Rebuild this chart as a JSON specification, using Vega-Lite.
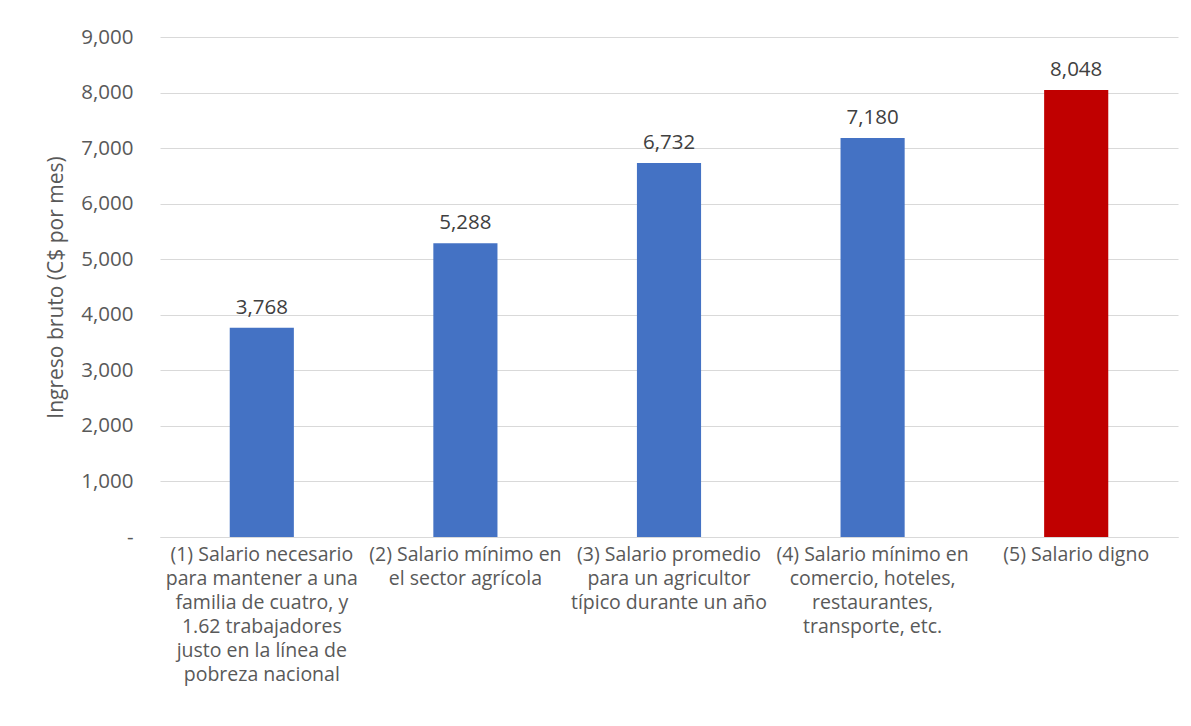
{
  "$schema": "https://vega.github.io/schema/vega-lite/v6.json",
  "width": 1018,
  "height": 500,
  "autosize": {"type": "none"},
  "padding": {"left": 160, "top": 37, "right": 13, "bottom": 189},
  "background": "white",
  "config": {"view": {"stroke": null}, "font": "Open Sans"},
  "data": {
    "values": [
      {"cat": "(1) Salario necesario|para mantener a una|familia de cuatro, y|1.62 trabajadores|justo en la línea de|pobreza nacional", "value": 3768, "group": "a"},
      {"cat": "(2) Salario mínimo en|el sector agrícola", "value": 5288, "group": "a"},
      {"cat": "(3) Salario promedio|para un agricultor|típico durante un año", "value": 6732, "group": "a"},
      {"cat": "(4) Salario mínimo en|comercio, hoteles,|restaurantes,|transporte, etc.", "value": 7180, "group": "a"},
      {"cat": "(5) Salario digno", "value": 8048, "group": "b"}
    ]
  },
  "encoding": {
    "x": {
      "field": "cat", "type": "nominal", "sort": null,
      "scale": {"paddingInner": 0.685, "paddingOuter": 0.3425},
      "axis": {
        "title": null, "labelAngle": 0, "ticks": false,
        "domainColor": "#d9d9d9", "domainWidth": 1,
        "labelExpr": "split(datum.label, '|')",
        "labelFontSize": 19.5, "labelColor": "#595959", "labelLineHeight": 24,
        "labelPadding": 8, "labelLimit": 300, "labelBaseline": "top"
      }
    },
    "y": {
      "field": "value", "type": "quantitative",
      "scale": {"domain": [0, 9000]},
      "axis": {
        "title": "Ingreso bruto (C$ por mes)",
        "titleFontSize": 21, "titleFontWeight": "normal", "titleColor": "#595959",
        "titleX": -94,
        "values": [0, 1000, 2000, 3000, 4000, 5000, 6000, 7000, 8000, 9000],
        "labelExpr": "datum.value == 0 ? '-   ' : format(datum.value, ',')",
        "labelFontSize": 20.5, "labelColor": "#595959", "labelPadding": 27,
        "ticks": false, "domain": false,
        "gridColor": "#d9d9d9", "gridWidth": 1
      }
    }
  },
  "layer": [
    {
      "mark": {"type": "bar"},
      "encoding": {
        "color": {
          "field": "group", "type": "nominal", "legend": null,
          "scale": {"domain": ["a", "b"], "range": ["#4472C4", "#C00000"]}
        }
      }
    },
    {
      "mark": {"type": "text", "baseline": "bottom", "dy": -10, "fontSize": 20.5, "color": "#404040"},
      "encoding": {"text": {"field": "value", "type": "quantitative", "format": ","}}
    }
  ]
}
